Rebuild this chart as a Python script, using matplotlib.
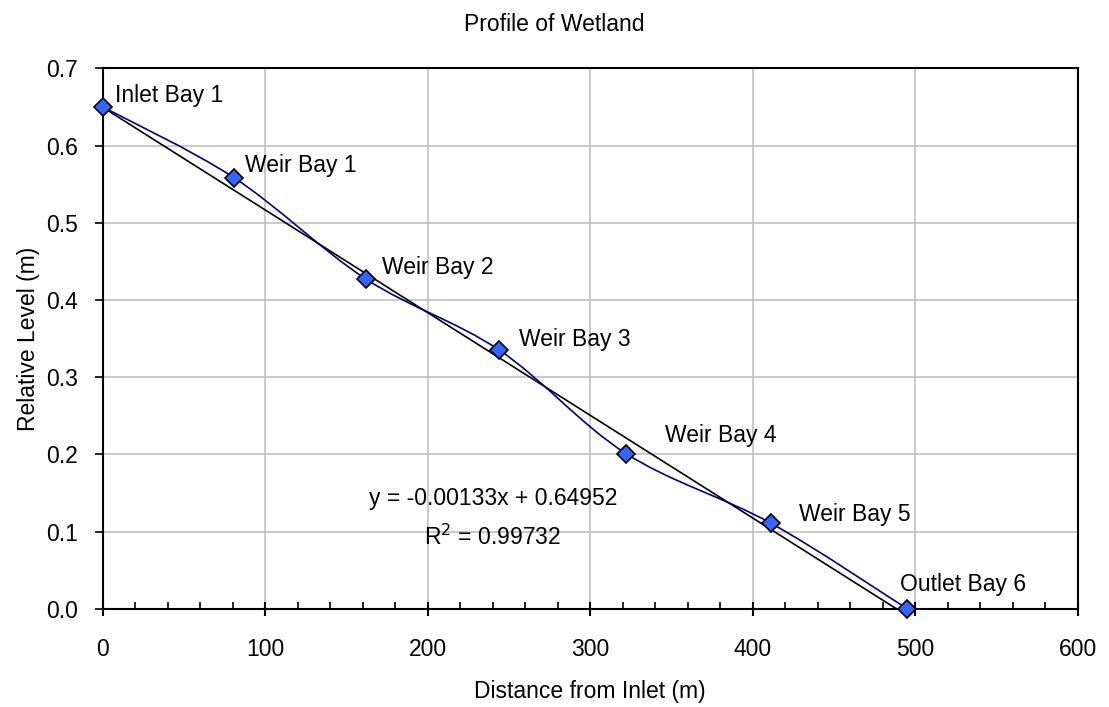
import numpy as np
import matplotlib
matplotlib.use("Agg")
import matplotlib.pyplot as plt
from matplotlib.path import Path
from matplotlib.patches import PathPatch
from matplotlib.ticker import MultipleLocator

plt.rcParams['font.family'] = ['Liberation Sans', 'DejaVu Sans']

# data
distance = [0, 81, 162, 244, 322, 411, 495]
level = [0.650, 0.558, 0.427, 0.335, 0.201, 0.111, 0.000]
names = ['Inlet Bay 1', 'Weir Bay 1', 'Weir Bay 2', 'Weir Bay 3',
         'Weir Bay 4', 'Weir Bay 5', 'Outlet Bay 6']
label_offsets = [(12, 11), (11, 12), (16, 12), (20, 11), (39, 18), (28, 9), (-7, 24)]

# linear trendline as printed on the chart
slope = -0.00133
intercept = 0.64952
r_squared = 0.99732

FS = 16.5


def smooth_path(xs, ys):
    # excel style smoothed line: cubic bezier through the points (catmull-rom)
    pts = np.column_stack([xs, ys]).astype(float)
    verts = [pts[0]]
    codes = [Path.MOVETO]
    n = len(pts)
    for i in range(n - 1):
        p0 = pts[i - 1] if i > 0 else pts[i]
        p1 = pts[i]
        p2 = pts[i + 1]
        p3 = pts[i + 2] if i + 2 < n else pts[i + 1]
        c1 = p1 + (p2 - p0) / 6.0
        c2 = p2 - (p3 - p1) / 6.0
        verts += [c1, c2, p2]
        codes += [Path.CURVE4] * 3
    return Path(verts, codes)


fig = plt.figure(figsize=(11.09, 7.07), dpi=100)
ax = fig.add_axes([0.0926, 0.139, 0.8792, 0.7644])

ax.grid(True, color='#c0c0c0', linewidth=1.2)
ax.set_axisbelow(True)

# trendline
tx = np.array([distance[0], distance[-1]])
ax.plot(tx, slope * tx + intercept, color='black', linewidth=1.2, zorder=2)

# smoothed profile
ax.add_patch(PathPatch(smooth_path(distance, level), facecolor='none',
                       edgecolor='#000080', linewidth=1.2, zorder=3))
ax.plot(distance, level, linestyle='none', marker='D', markersize=9,
        markerfacecolor='#3366ff', markeredgecolor='black', markeredgewidth=1.2,
        zorder=4, clip_on=False)

for x, y, name, off in zip(distance, level, names, label_offsets):
    ax.annotate(name, (x, y), xytext=off, textcoords='offset pixels',
                ha='left', va='center', fontsize=FS)

ax.text(240, 0.143, 'y = -0.00133x + 0.64952', ha='center', va='center', fontsize=FS)
ax.text(240, 0.092, f'R$^2$ = {r_squared}', ha='center', va='center', fontsize=FS)

ax.set_xlim(0, 600)
ax.set_ylim(0, 0.7)
ax.xaxis.set_major_locator(MultipleLocator(100))
ax.xaxis.set_minor_locator(MultipleLocator(20))
ax.yaxis.set_major_locator(MultipleLocator(0.1))
ax.yaxis.set_major_formatter(matplotlib.ticker.FormatStrFormatter('%.1f'))

ax.tick_params(axis='x', which='major', direction='inout', length=10, width=1.5,
               labelsize=FS, pad=16)
ax.tick_params(axis='x', which='minor', direction='in', length=5, width=1.2)
ax.tick_params(axis='y', which='major', direction='out', length=6, width=1.2,
               labelsize=FS, pad=12)
for s in ax.spines.values():
    s.set_linewidth(1.5)

ax.set_xlabel('Distance from Inlet (m)', fontsize=FS, labelpad=14)
ax.set_ylabel('Relative Level (m)', fontsize=FS, labelpad=4)
fig.text(0.5, 0.965, 'Profile of Wetland', ha='center', va='center', fontsize=FS)

fig.savefig('out.png', dpi=100)
